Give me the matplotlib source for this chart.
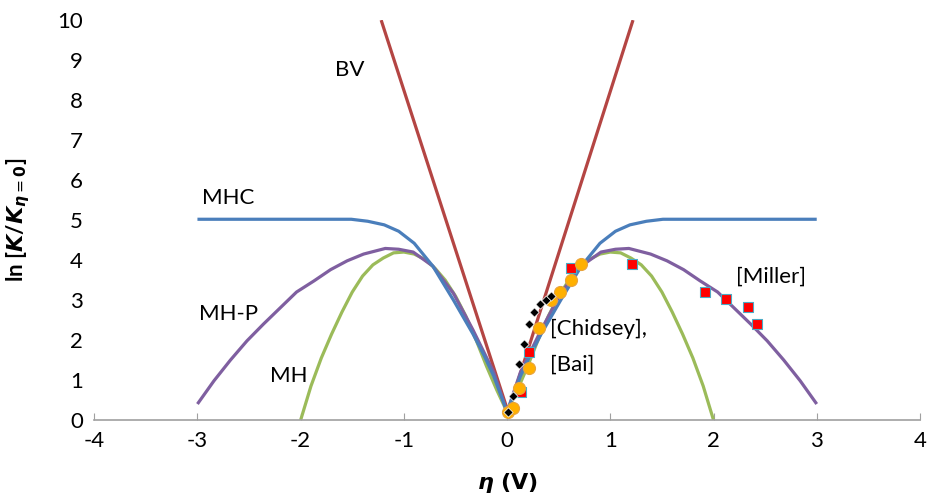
import matplotlib
matplotlib.use("Agg")
import matplotlib.pyplot as plt

# ── Data ───────────────────────────────────────────────────────────────────

bv_eta = [-1.22, 0.01, 1.22]
bv_y   = [10.0, 0.2, 10.0]

mhc_eta = [-3.0, -2.0, -1.51, -1.35, -1.19, -1.05, -0.9, -0.72, -0.52, -0.33,
           -0.22, -0.13, 0.0,
           0.13, 0.22, 0.33, 0.52, 0.72, 0.9, 1.05, 1.19, 1.35, 1.51, 2.0, 3.0]
mhc_y   = [5.02, 5.02, 5.02, 4.97, 4.88, 4.72, 4.42, 3.85, 3.0, 2.15,
           1.6, 1.1, 0.2,
           1.1, 1.6, 2.15, 3.0, 3.85, 4.42, 4.72, 4.88, 4.97, 5.02, 5.02, 5.02]

mhp_eta = [-3.0, -2.84, -2.68, -2.52, -2.36, -2.2, -2.04, -1.87, -1.71, -1.55,
           -1.39, -1.18, -1.05, -0.91, -0.72, -0.52, -0.33, -0.13, 0.0,
           0.13, 0.33, 0.52, 0.72, 0.91, 1.05, 1.18, 1.39, 1.55, 1.71, 1.87,
           2.04, 2.2, 2.36, 2.52, 2.68, 2.84, 3.0]
mhp_y   = [0.4, 0.98, 1.5, 1.98, 2.4, 2.8, 3.2, 3.48, 3.76, 3.98,
           4.15, 4.29, 4.27, 4.2, 3.85, 3.17, 2.25, 1.2, 0.2,
           1.2, 2.25, 3.17, 3.85, 4.2, 4.27, 4.29, 4.15, 3.98, 3.76, 3.48,
           3.2, 2.8, 2.4, 1.98, 1.5, 0.98, 0.4]

mh_eta = [-2.0, -1.9, -1.8, -1.7, -1.6, -1.5, -1.4, -1.3, -1.2, -1.1, -1.0,
          -0.9, -0.8, -0.7, -0.6, -0.5, -0.4, -0.3, -0.2, -0.1, 0.0,
          0.1, 0.2, 0.3, 0.4, 0.5, 0.6, 0.7, 0.8, 0.9, 1.0,
          1.1, 1.2, 1.3, 1.4, 1.5, 1.6, 1.7, 1.8, 1.9, 2.0]
mh_y   = [0.0, 0.85, 1.55, 2.15, 2.7, 3.2, 3.6, 3.88, 4.05, 4.18, 4.2,
          4.15, 4.02, 3.8, 3.5, 3.1, 2.6, 2.0, 1.35, 0.75, 0.2,
          0.75, 1.35, 2.0, 2.6, 3.1, 3.5, 3.8, 4.02, 4.15, 4.2,
          4.18, 4.05, 3.88, 3.6, 3.2, 2.7, 2.15, 1.55, 0.85, 0.0]

chidsey_eta = [0.01, 0.06, 0.12, 0.16, 0.21, 0.26, 0.32, 0.38, 0.43]
chidsey_y   = [0.2, 0.6, 1.4, 1.9, 2.4, 2.7, 2.9, 3.0, 3.1]

bai_eta = [0.01, 0.06, 0.12, 0.21, 0.31, 0.43, 0.51, 0.62, 0.72]
bai_y   = [0.2, 0.3, 0.8, 1.3, 2.3, 3.0, 3.2, 3.5, 3.9]

miller_eta = [0.13, 0.21, 0.62, 1.21, 1.92, 2.12, 2.33, 2.42]
miller_y   = [0.7, 1.7, 3.8, 3.9, 3.19, 3.02, 2.82, 2.4]

x_ticks = [-4, -3, -2, -1, 0, 1, 2, 3, 4]
y_ticks = list(range(0, 11))

plt.rcParams["font.family"] = ["Lato", "DejaVu Sans"]
plt.rcParams["axes.unicode_minus"] = False

fig = plt.figure(figsize=(9.33, 5.03), dpi=100)
ax = fig.add_axes([0.101, 0.165, 0.885, 0.795])

line_kw = dict(lw=2.3, solid_joinstyle="round", solid_capstyle="butt")
ax.plot(mh_eta, mh_y, color="#9BBB59", zorder=2, **line_kw)
ax.plot(mhp_eta, mhp_y, color="#7F5FA0", zorder=3, **line_kw)
ax.plot(mhc_eta, mhc_y, color="#4A7EBB", zorder=4, **line_kw)
ax.plot(bv_eta, bv_y, color="#B44543", zorder=1, **line_kw)

ax.scatter(miller_eta, miller_y, marker="s", s=55, color="#FF0000",
           edgecolors="#4BACC6", linewidths=0.8, zorder=5)
ax.scatter(bai_eta, bai_y, marker="o", s=75, color="#FFB000",
           edgecolors="#E8A33C", linewidths=0.8, zorder=6)
ax.scatter(chidsey_eta, chidsey_y, marker="D", s=22, color="black",
           edgecolors="white", linewidths=0.5, zorder=7)

ax.text(-1.52, 8.75, "BV", fontsize=16, ha="center", va="center")
ax.text(-2.7, 5.55, "MHC", fontsize=16, ha="center", va="center")
ax.text(-2.7, 2.65, "MH-P", fontsize=16, ha="center", va="center")
ax.text(-2.12, 1.1, "MH", fontsize=16, ha="center", va="center")
ax.text(0.42, 2.28, "[Chidsey],", fontsize=16, ha="left", va="center")
ax.text(0.42, 1.38, "[Bai]", fontsize=16, ha="left", va="center")
ax.text(2.22, 3.58, "[Miller]", fontsize=16, ha="left", va="center")

ax.set_xlim(-4, 4)
ax.set_ylim(0, 10)
ax.set_xticks(x_ticks)
ax.set_yticks(y_ticks)
ax.tick_params(axis="both", labelsize=16, length=0, pad=8)
ax.tick_params(axis="x", length=5, direction="in", color="#A0A0A0")

for side in ["left", "right", "top"]:
    ax.spines[side].set_visible(False)
ax.spines["bottom"].set_color("#A0A0A0")
ax.spines["bottom"].set_linewidth(1.2)

ax.set_xlabel(r"$\boldsymbol{\eta}\ \mathbf{(V)}$", fontsize=16, labelpad=14)
ax.set_ylabel(r"ln [$\boldsymbol{K}$/$\boldsymbol{K}_{\boldsymbol{\eta}{=}\mathbf{0}}$]",
              fontsize=16, fontweight="bold", labelpad=18)

fig.savefig("out.png", dpi=100)
